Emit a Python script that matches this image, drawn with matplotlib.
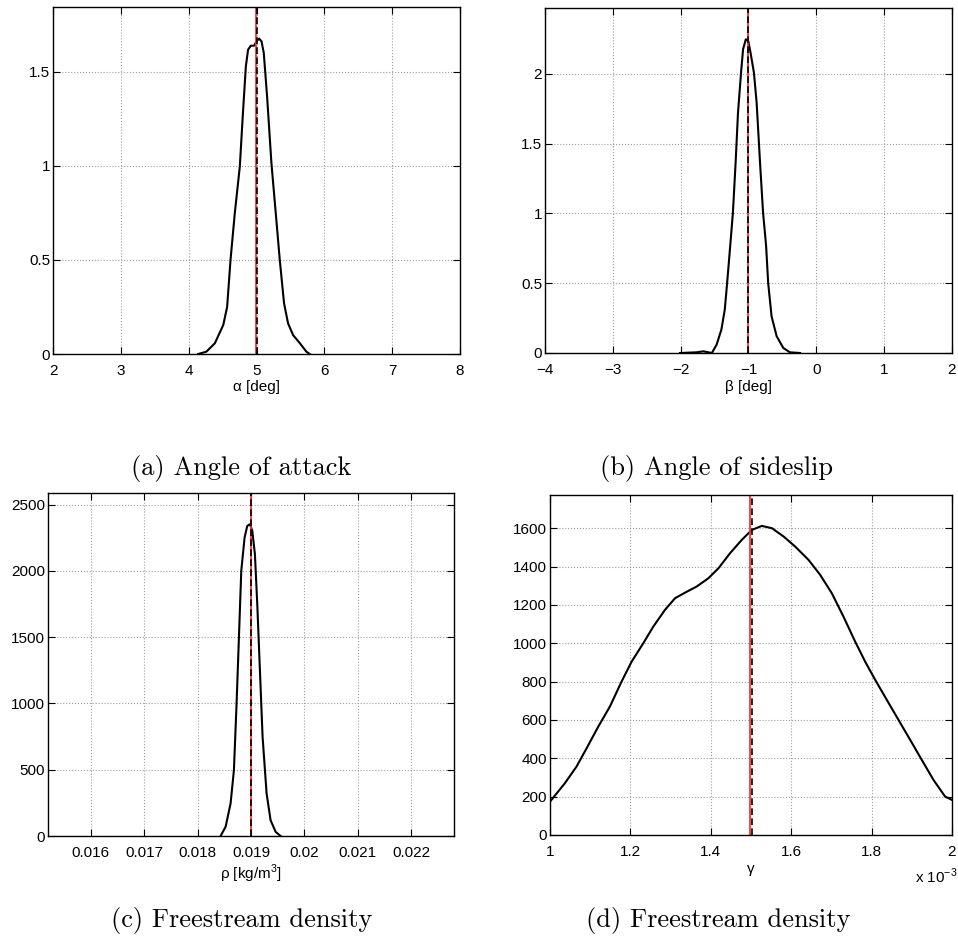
import numpy as np
import matplotlib
matplotlib.use("Agg")
import matplotlib.pyplot as plt
from matplotlib.ticker import FuncFormatter

# (a) angle of attack pdf
alpha_x = [4.14, 4.26, 4.386, 4.51, 4.567, 4.617, 4.68, 4.754, 4.80, 4.843, 4.876, 4.916,
           4.965, 5.0, 5.038, 5.074, 5.107, 5.156, 5.22, 5.284, 5.343, 5.406, 5.465, 5.54,
           5.64, 5.736, 5.785]
alpha_pdf = [0.0, 0.012, 0.057, 0.154, 0.25, 0.50, 0.748, 0.996, 1.28, 1.528, 1.617, 1.638,
             1.638, 1.661, 1.676, 1.661, 1.60, 1.369, 1.014, 0.748, 0.50, 0.27, 0.163, 0.10,
             0.057, 0.012, 0.0]
alpha_nom, alpha_mean = 4.99, 5.0

# (b) angle of sideslip pdf
beta_x = [-2.01, -1.764, -1.666, -1.54, -1.47, -1.40, -1.35, -1.315, -1.27, -1.23, -1.19,
          -1.155, -1.11, -1.08, -1.04, -1.003, -0.97, -0.92, -0.88, -0.83, -0.785, -0.74,
          -0.71, -0.66, -0.585, -0.487, -0.39, -0.24]
beta_pdf = [0.0, 0.005, 0.012, 0.0, 0.06, 0.167, 0.31, 0.502, 0.765, 1.004, 1.363, 1.72,
            2.008, 2.176, 2.247, 2.235, 2.152, 2.008, 1.793, 1.363, 1.004, 0.765, 0.502,
            0.263, 0.12, 0.036, 0.005, 0.0]
beta_nom, beta_mean = -1.0, -1.0

# (c) freestream density pdf
rho_x = [0.018431, 0.018525, 0.018618, 0.01868, 0.01873, 0.018774, 0.018818, 0.01888,
         0.01893, 0.01898, 0.019024, 0.019073, 0.019117, 0.019167, 0.019217, 0.019292,
         0.019366, 0.01946, 0.019553]
rho_pdf = [0, 70, 246, 496, 998, 1499, 2001, 2251, 2339, 2352, 2302, 2127, 1751, 1249,
           747, 321, 120, 32, 0]
rho_nom, rho_mean = 0.019, 0.019

# (d) gamma pdf (x in units of 1e-3)
gamma_x = [1.0, 1.037, 1.066, 1.091, 1.12, 1.149, 1.178, 1.203, 1.232, 1.257, 1.286, 1.311,
           1.336, 1.365, 1.394, 1.419, 1.448, 1.477, 1.502, 1.527, 1.552, 1.581, 1.610,
           1.643, 1.672, 1.701, 1.730, 1.759, 1.784, 1.809, 1.838, 1.867, 1.896, 1.925,
           1.954, 1.983, 2.0]
gamma_pdf = [174, 270, 357, 452, 565, 670, 800, 904, 1000, 1087, 1174, 1235, 1264, 1296,
             1339, 1391, 1470, 1539, 1591, 1612, 1600, 1557, 1504, 1435, 1357, 1261, 1139,
             1009, 904, 809, 704, 600, 496, 391, 287, 200, 183]
gamma_nom, gamma_mean = 1.498e-3, 1.502e-3

captions = ["(a) Angle of attack", "(b) Angle of sideslip",
            "(c) Freestream density", "(d) Freestream density"]

plt.rcParams['font.family'] = ['Liberation Sans', 'DejaVu Sans']
plt.rcParams['font.size'] = 11
plt.rcParams['mathtext.fontset'] = 'custom'
plt.rcParams['mathtext.rm'] = 'Liberation Sans'
plt.rcParams['axes.unicode_minus'] = True

W, H = 958, 943
fig = plt.figure(figsize=(W / 100, H / 100), dpi=100)


def add_axes(left, top, right, bottom):
    return fig.add_axes([left / W, 1 - bottom / H, (right - left) / W, (bottom - top) / H])


def style(ax):
    ax.grid(True, linestyle=':', color='0.62', linewidth=0.8)
    ax.tick_params(direction='in', top=True, right=True, length=5, width=0.8,
                   labelsize=11)
    ax.tick_params(axis='x', pad=7)
    ax.tick_params(axis='y', pad=2)
    for s in ax.spines.values():
        s.set_linewidth(1.0)
    ax.set_axisbelow(True)


def draw(ax, x, y, nom, mean):
    ax.plot(x, y, color='black', lw=1.5)
    ax.axvline(nom, color='#ff3030', lw=1.3)
    ax.axvline(mean, color='black', lw=1.2, linestyle=(0, (4, 2)))
    ax.set_ylim(0, 1.1 * max(y))


gfmt = FuncFormatter(lambda v, p: ('%g' % v).replace('-', '\u2212'))

# (a)
ax1 = add_axes(53, 7, 460, 354)
draw(ax1, alpha_x, alpha_pdf, alpha_nom, alpha_mean)
ax1.set_xlim(2, 8)
ax1.set_xticks(np.arange(2, 9, 1))
ax1.set_yticks([0, 0.5, 1, 1.5])
ax1.xaxis.set_major_formatter(gfmt)
ax1.yaxis.set_major_formatter(gfmt)
ax1.set_xlabel('\u03b1 [deg]', labelpad=2)
style(ax1)

# (b)
ax2 = add_axes(545, 8, 952, 353)
draw(ax2, beta_x, beta_pdf, beta_nom, beta_mean)
ax2.set_xlim(-4, 2)
ax2.set_xticks(np.arange(-4, 3, 1))
ax2.set_yticks([0, 0.5, 1, 1.5, 2])
ax2.xaxis.set_major_formatter(gfmt)
ax2.yaxis.set_major_formatter(gfmt)
ax2.set_xlabel('\u03b2 [deg]', labelpad=2)
style(ax2)

# (c)
ax3 = add_axes(48, 493, 454, 836)
draw(ax3, rho_x, rho_pdf, rho_nom, rho_mean)
ax3.set_xlim(0.0152, 0.0228)
ax3.set_xticks([0.016, 0.017, 0.018, 0.019, 0.020, 0.021, 0.022])
ax3.set_yticks([0, 500, 1000, 1500, 2000, 2500])
ax3.xaxis.set_major_formatter(gfmt)
ax3.yaxis.set_major_formatter(gfmt)
ax3.set_xlabel('\u03c1 [kg/m$^3$]', labelpad=2)
style(ax3)

# (d)
ax4 = add_axes(550, 495, 952, 835)
gx = [v * 1e-3 for v in gamma_x]
draw(ax4, gx, gamma_pdf, gamma_nom, gamma_mean)
ax4.set_xlim(1e-3, 2e-3)
ax4.set_xticks([1e-3, 1.2e-3, 1.4e-3, 1.6e-3, 1.8e-3, 2e-3])
ax4.set_yticks(np.arange(0, 1601, 200))
ax4.xaxis.set_major_formatter(FuncFormatter(lambda v, p: '%g' % round(v * 1e3, 6)))
ax4.yaxis.set_major_formatter(gfmt)
ax4.set_xlabel('\u03b3', labelpad=2)
ax4.annotate('x 10$^{\u22123}$', xy=(1, 0), xycoords='axes fraction',
             xytext=(6, -32), textcoords='offset pixels', ha='right', va='top',
             fontsize=11)
style(ax4)

# captions below each panel
cap_pos = [(241, 468), (717, 468), (242, 920), (718, 920)]
for (cx, cy), txt in zip(cap_pos, captions):
    fig.text(cx / W, 1 - cy / H, txt, ha='center', va='center',
             fontsize=19, family='cmr10')

fig.savefig('out.png', dpi=100)
